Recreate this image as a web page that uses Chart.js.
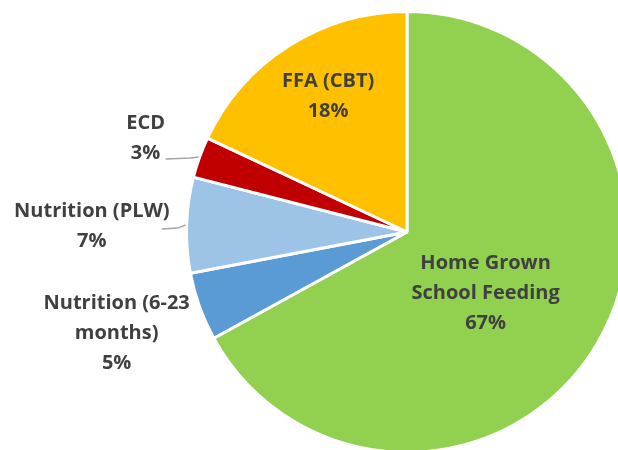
<!DOCTYPE html>
<html>
<head>
<meta charset="utf-8">
<script src="https://cdn.jsdelivr.net/npm/chart.js@4.4.0/dist/chart.umd.min.js"></script>
<style>
  html, body { margin: 0; padding: 0; background: #fff; overflow: hidden; }
  #wrap { position: absolute; left: 0; top: 0; width: 814px; height: 464px; }
</style>
</head>
<body>
<div id="wrap"><canvas id="myChart"></canvas></div>
<script>
// data
const categories = [
  ['Home Grown', 'School Feeding'],
  ['Nutrition (6-23', 'months)'],
  ['Nutrition (PLW)'],
  ['ECD'],
  ['FFA (CBT)']
]
const shares = [67, 5, 7, 3, 18]
const colors = ['#92D050', '#5B9BD5', '#9DC3E6', '#C00000', '#FFC000']

// where each label sits: radius factor on the slice mid angle, plus a nudge
const labelPlace = [
  { f: 0.43, dx: -3, dy: 13 },
  { f: 1.39, dx: -2, dy: -3 },
  { f: 1.43, dx: 0, dy: 4, leader: { sx: 70, sy: 3 } },
  { f: 1.26, dx: 0, dy: 0, leader: { sx: 20, sy: 21 } },
  { f: 0.71, dx: 5, dy: -4 }
]

const sliceLabels = {
  id: 'sliceLabels',
  afterDatasetsDraw(chart) {
    const ctx = chart.ctx
    const meta = chart.getDatasetMeta(0)
    const lineH = 30
    ctx.save()
    ctx.font = 'bold 20px "Open Sans"'
    ctx.fillStyle = '#404040'
    ctx.textAlign = 'center'
    ctx.textBaseline = 'middle'
    meta.data.forEach((arc, i) => {
      const p = arc.getProps(['x', 'y', 'startAngle', 'endAngle', 'outerRadius'], true)
      const mid = (p.startAngle + p.endAngle) / 2
      const pl = labelPlace[i]
      const cx = p.x + Math.cos(mid) * p.outerRadius * pl.f + pl.dx
      const cy = p.y + Math.sin(mid) * p.outerRadius * pl.f + pl.dy
      const lines = categories[i].concat([shares[i] + '%'])
      const top = cy - (lines.length - 1) * lineH / 2
      lines.forEach((t, k) => ctx.fillText(t, cx, top + k * lineH))
      if (pl.leader) {
        const ex = p.x + Math.cos(mid) * (p.outerRadius + 1)
        const ey = p.y + Math.sin(mid) * (p.outerRadius + 1)
        const sx = cx + pl.leader.sx
        const sy = cy + pl.leader.sy
        ctx.beginPath()
        ctx.strokeStyle = '#A6A6A6'
        ctx.lineWidth = 1.5
        ctx.moveTo(sx, sy)
        ctx.lineTo(ex - 8, sy - 1)
        ctx.lineTo(ex, ey)
        ctx.stroke()
      }
    })
    ctx.restore()
  }
}

const ctx = document.getElementById('myChart').getContext('2d')
const pieChart = new Chart(ctx, {
  type: 'pie',
  data: {
    labels: categories,
    datasets: [{
      data: shares,
      backgroundColor: colors,
      borderColor: '#ffffff',
      borderWidth: 3
    }]
  },
  options: {
    responsive: true,
    maintainAspectRatio: false,
    animation: false,
    layout: { padding: 10 },
    events: [],
    plugins: {
      legend: { display: false },
      tooltip: { enabled: false }
    }
  },
  plugins: [sliceLabels]
})
</script>
</body>
</html>
